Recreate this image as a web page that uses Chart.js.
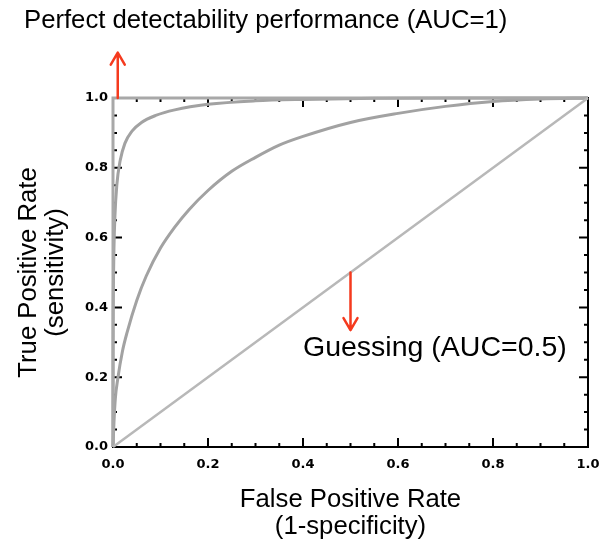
<!DOCTYPE html>
<html>
<head>
<meta charset="utf-8">
<script src="https://cdn.jsdelivr.net/npm/chart.js@4"></script>
<style>
  body { margin: 0; background: #fff; }
</style>
</head>
<body>
<canvas id="roc" width="599" height="552"></canvas>
<script>
'use strict';

// ROC curves: false positive rate (x) against true positive rate (y)
var strongFpr = [0, 0.0001, 0.0005, 0.001, 0.002, 0.004, 0.008, 0.015, 0.025, 0.04, 0.06, 0.09, 0.13, 0.2, 0.3, 0.4, 0.55, 0.7, 0.85, 1.0];
var strongTpr = [0, 0.25, 0.4, 0.48, 0.57, 0.66, 0.75, 0.82, 0.87, 0.905, 0.93, 0.95, 0.966, 0.982, 0.992, 0.996, 0.999, 1.0, 1.0, 1.0];

var fairFpr = [0, 0.002, 0.005, 0.01, 0.02, 0.03, 0.05, 0.07, 0.1, 0.13, 0.16, 0.2, 0.25, 0.3, 0.35, 0.4, 0.5, 0.6, 0.7, 0.8, 0.9, 1.0];
var fairTpr = [0, 0.07, 0.14, 0.195, 0.275, 0.33, 0.42, 0.49, 0.57, 0.63, 0.68, 0.735, 0.79, 0.83, 0.865, 0.89, 0.93, 0.956, 0.976, 0.99, 0.997, 1.0];

var perfectFpr = [0, 0, 1];
var perfectTpr = [0, 1, 1];

var chanceFpr = [0, 1];
var chanceTpr = [0, 1];

var majorTicks = [0, 0.2, 0.4, 0.6, 0.8, 1.0];
var minorTicks = [0.05, 0.1, 0.15, 0.25, 0.3, 0.35, 0.45, 0.5, 0.55, 0.65, 0.7, 0.75, 0.85, 0.9, 0.95];

// arrows: x position, start value, end value
var arrowX = [0.01, 0.5];
var arrowFrom = [1.0, 0.5];
var arrowTo = [1.13, 0.335];

var topNote = 'Perfect detectability performance (AUC=1)';
var chanceNote = 'Guessing (AUC=0.5)';

function toPoints(xs, ys) {
  return xs.map(function (x, i) { return { x: x, y: ys[i] }; });
}

function curve(xs, ys, color, width) {
  return {
    data: toPoints(xs, ys),
    borderColor: color,
    borderWidth: width,
    pointRadius: 0,
    fill: false,
    cubicInterpolationMode: 'monotone',
    clip: 4
  };
}

// inward IDL style ticks on all four sides, drawn under the curves
var frameTicks = {
  id: 'frameTicks',
  beforeDatasetsDraw: function (chart) {
    var ctx = chart.ctx, a = chart.chartArea;
    var xs = chart.scales.x, ys = chart.scales.y;
    ctx.save();
    ctx.strokeStyle = '#000';
    ctx.lineWidth = 2;
    ctx.strokeRect(a.left, a.top, a.right - a.left, a.bottom - a.top);

    function mark(v, len) {
      var px = xs.getPixelForValue(v), py = ys.getPixelForValue(v);
      ctx.beginPath();
      ctx.moveTo(px, a.bottom); ctx.lineTo(px, a.bottom - len);
      ctx.moveTo(px, a.top); ctx.lineTo(px, a.top + len);
      ctx.moveTo(a.left, py); ctx.lineTo(a.left + len, py);
      ctx.moveTo(a.right, py); ctx.lineTo(a.right - len, py);
      ctx.stroke();
    }
    majorTicks.forEach(function (v) { mark(v, 9); });
    minorTicks.forEach(function (v) { mark(v, 4); });
    ctx.restore();
  }
};

var notes = {
  id: 'notes',
  afterDraw: function (chart) {
    var ctx = chart.ctx;
    var xs = chart.scales.x, ys = chart.scales.y;
    ctx.save();

    ctx.strokeStyle = '#f53a1e';
    ctx.lineWidth = 2.5;
    ctx.lineCap = 'round';
    ctx.lineJoin = 'round';
    for (var i = 0; i < arrowX.length; i++) {
      var x = xs.getPixelForValue(arrowX[i]);
      var y0 = ys.getPixelForValue(arrowFrom[i]);
      var y1 = ys.getPixelForValue(arrowTo[i]);
      var dir = y1 < y0 ? 1 : -1;
      ctx.beginPath();
      ctx.moveTo(x, y0); ctx.lineTo(x, y1);
      ctx.moveTo(x - 7, y1 + dir * 12); ctx.lineTo(x, y1); ctx.lineTo(x + 7, y1 + dir * 12);
      ctx.stroke();
    }

    ctx.fillStyle = '#000';
    ctx.textBaseline = 'middle';
    ctx.textAlign = 'left';
    ctx.font = '25.7px "Liberation Sans"';
    ctx.fillText(topNote, 24, 21);
    ctx.font = '28.5px "Liberation Sans"';
    ctx.fillText(chanceNote, 303, 348);
    ctx.restore();
  }
};

var titleFont = { family: '"Liberation Sans"', size: 25.7, lineHeight: '27px' };
var tickFont = { family: '"DejaVu Sans"', size: 13, weight: 'bold' };

new Chart(document.getElementById('roc'), {
  type: 'line',
  data: {
    datasets: [
      curve(chanceFpr, chanceTpr, '#b8b8b8', 2.5),
      curve(perfectFpr, perfectTpr, '#a8a8a8', 3),
      curve(fairFpr, fairTpr, '#a2a2a2', 3),
      curve(fairFpr, fairTpr, '#dadada', 1),
      curve(strongFpr, strongTpr, '#a2a2a2', 3),
      curve(strongFpr, strongTpr, '#dadada', 1)
    ]
  },
  options: {
    responsive: false,
    animation: false,
    layout: { padding: { top: 98, right: 11, left: 0, bottom: 0 } },
    plugins: {
      legend: { display: false },
      tooltip: { enabled: false }
    },
    scales: {
      x: {
        type: 'linear',
        min: 0,
        max: 1,
        grid: { display: false, drawTicks: false },
        border: { display: false },
        ticks: {
          stepSize: 0.2,
          padding: 10,
          maxRotation: 0,
          color: '#000',
          font: tickFont,
          callback: function (v) { return v.toFixed(1); }
        },
        title: {
          display: true,
          text: ['False Positive Rate', '(1-specificity)'],
          color: '#000',
          font: titleFont,
          padding: { top: 0, bottom: 12 }
        },
        afterFit: function (scale) {
          scale.height = 105;
          scale.paddingLeft = 0;
          scale.paddingRight = 0;
        }
      },
      y: {
        type: 'linear',
        min: 0,
        max: 1,
        grid: { display: false, drawTicks: false },
        border: { display: false },
        ticks: {
          stepSize: 0.2,
          padding: 5,
          color: '#000',
          font: tickFont,
          callback: function (v) { return v.toFixed(1); }
        },
        title: {
          display: true,
          text: ['True Positive Rate', '(sensitivity)'],
          color: '#000',
          font: titleFont,
          padding: { top: 15, bottom: 0 }
        },
        afterFit: function (scale) {
          scale.width = 113;
          scale.paddingTop = 0;
          scale.paddingBottom = 0;
        }
      }
    }
  },
  plugins: [frameTicks, notes]
});
</script>
</body>
</html>
